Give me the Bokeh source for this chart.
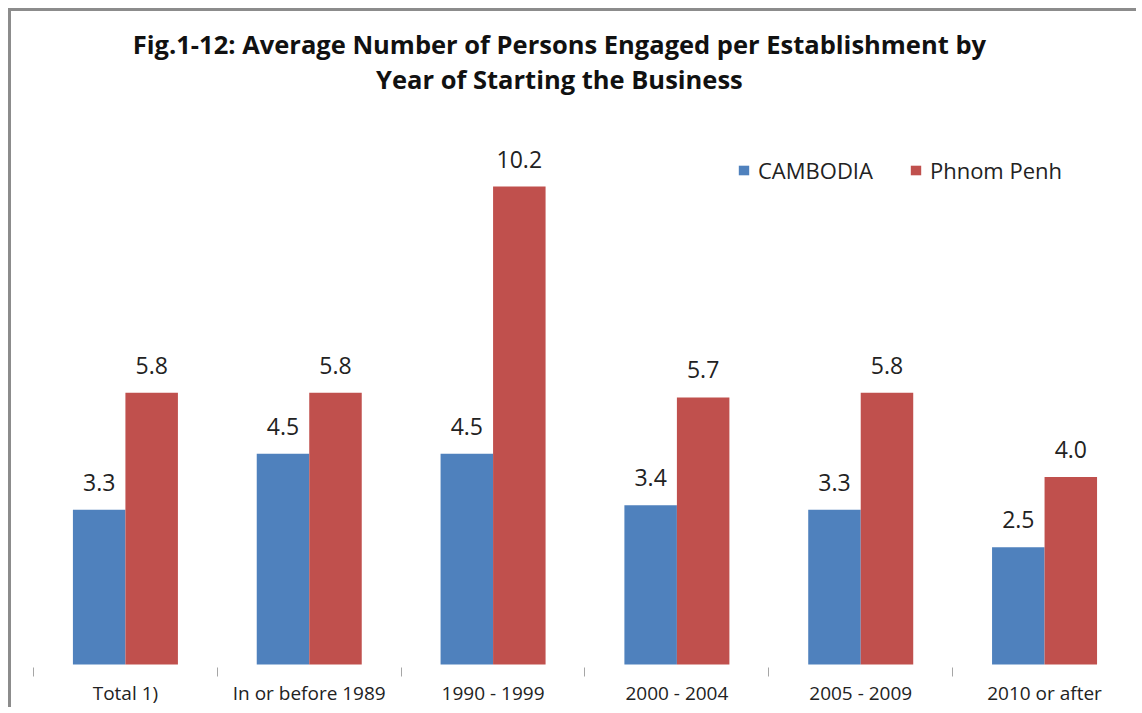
import numpy as np
from bokeh.plotting import figure
from bokeh.models import (ColumnDataSource, LinearAxis, FixedTicker, Range1d,
                          LabelSet, Label, Legend, LegendItem, Grid)
from bokeh.core.properties import value
from bokeh.transform import dodge
from bokeh.embed import file_html
from bokeh.resources import INLINE

# ---- data ----
categories = ["Total 1)", "In or before 1989", "1990 - 1999", "2000 - 2004", "2005 - 2009", "2010 or after"]
cambodia = [3.3, 4.5, 4.5, 3.4, 3.3, 2.5]
phnom_penh = [5.8, 5.8, 10.2, 5.7, 5.8, 4.0]
series_names = ["CAMBODIA", "Phnom Penh"]
title_lines = ["Fig.1-12: Average Number of Persons Engaged per Establishment by",
               "Year of Starting the Business"]

# ---- style ----
BLUE = "#4F81BD"
RED = "#C0504D"
FONT = "Open Sans"
TEXT = "#222222"

pos = np.arange(len(categories)) + 0.5
src = ColumnDataSource(dict(
    x=pos,
    cam=cambodia,
    pp=phnom_penh,
    cam_lbl=[f"{v:.1f}" for v in cambodia],
    pp_lbl=[f"{v:.1f}" for v in phnom_penh],
))

p = figure(width=1128, height=699, output_backend="svg", toolbar_location=None,
           title=None, x_axis_location=None, y_axis_location=None,
           x_range=Range1d(-0.1197, 6.0165), y_range=Range1d(-0.064, 13.935),
           min_border_left=0, min_border_right=0, min_border_top=0, min_border_bottom=43)
p.outline_line_color = None
p.background_fill_color = "white"
p.border_fill_color = "white"
p.styles = {"margin-left": "8px", "margin-top": "8px",
            "border-left": "3px solid #8c8c8c", "border-top": "3px solid #8c8c8c"}
for r in p.center:
    if isinstance(r, Grid):
        r.visible = False

bw = 0.2856
r1 = p.vbar(x=dodge("x", -bw / 2, range=p.x_range), top="cam", width=bw, bottom=0,
            source=src, fill_color=BLUE, line_color=None)
r2 = p.vbar(x=dodge("x", bw / 2, range=p.x_range), top="pp", width=bw, bottom=0,
            source=src, fill_color=RED, line_color=None)

for col, lbl, off in (("cam", "cam_lbl", -bw / 2), ("pp", "pp_lbl", bw / 2)):
    ls = LabelSet(x=dodge("x", off, range=p.x_range), y=col, text=lbl, source=src,
                  y_offset=19, text_align="center", text_baseline="alphabetic",
                  text_font=value(FONT), text_font_size=value("23px"), text_color=TEXT)
    p.add_layout(ls)

ax = LinearAxis()
ax.ticker = FixedTicker(ticks=list(pos), minor_ticks=list(range(len(categories) + 1)))
ax.major_label_overrides = {float(x): c for x, c in zip(pos, categories)}
ax.axis_line_color = None
ax.major_tick_line_color = None
ax.major_tick_out = 0
ax.major_tick_in = 0
ax.minor_tick_line_color = "#a6a6a6"
ax.minor_tick_out = 9
ax.minor_tick_in = 0
ax.major_label_standoff = 3
ax.major_label_text_font = FONT
ax.major_label_text_font_size = "19px"
ax.major_label_text_color = TEXT
p.add_layout(ax, "below")

for txt, yv in zip(title_lines, (13.25, 12.50)):
    p.add_layout(Label(x=2.861, y=yv, text=txt, text_align="center", text_baseline="alphabetic",
                       text_font=FONT, text_font_style="bold", text_font_size="25.5px",
                       text_color="#111111"))

legend = Legend(items=[LegendItem(label=series_names[0], renderers=[r1]),
                       LegendItem(label=series_names[1], renderers=[r2])],
                orientation="horizontal", location=(726, 482),
                glyph_width=13, glyph_height=12, label_standoff=8, spacing=36,
                padding=0, margin=0, border_line_color=None, background_fill_alpha=0,
                label_text_font=FONT, label_text_font_size="22px", label_text_color=TEXT)
p.add_layout(legend, "center")

open("out.html", "w").write(file_html(p, INLINE))
